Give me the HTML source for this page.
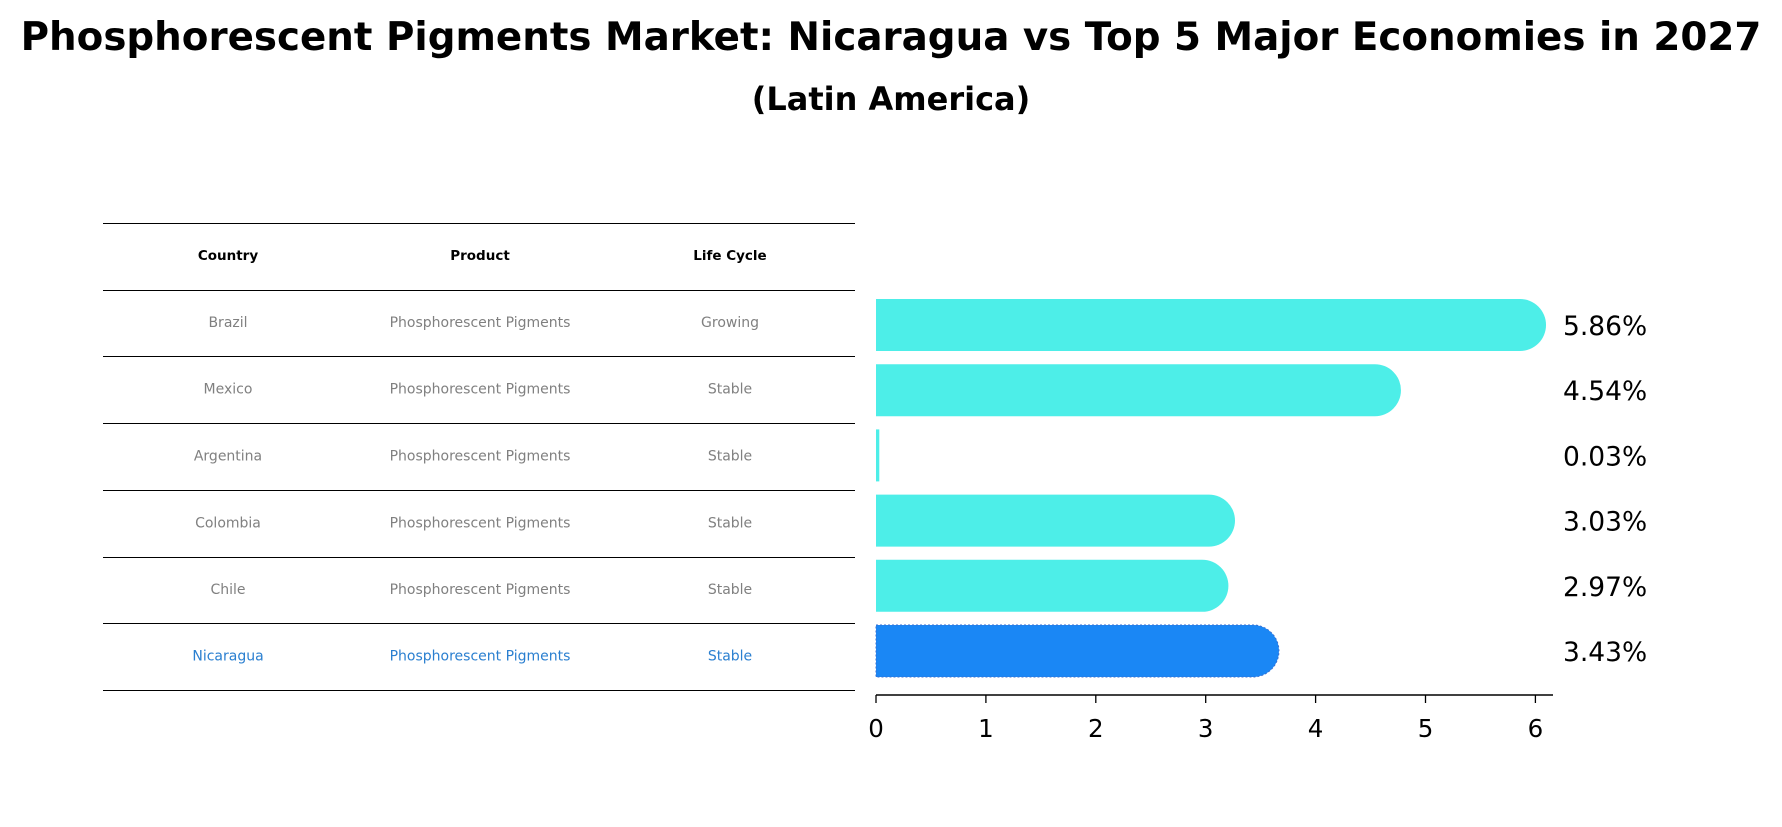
<!DOCTYPE html>
<html><head><meta charset="utf-8"><style>
body{margin:0;background:#fff;width:1782px;height:823px;overflow:hidden;font-family:"DejaVu Sans","Liberation Sans",sans-serif}
</style></head><body>
<svg width="1782" height="823" xmlns="http://www.w3.org/2000/svg" id="chart">
<text x="891" y="50" text-anchor="middle" font-size="38.8" font-weight="bold">Phosphorescent Pigments Market: Nicaragua vs Top 5 Major Economies in 2027</text>
<text x="891" y="110" text-anchor="middle" font-size="32" font-weight="bold">(Latin America)</text>
<g id="table"></g>
<g id="bars"></g>
</svg>
<script>
const countries=["Brazil","Mexico","Argentina","Colombia","Chile","Nicaragua"];
const lifeCycle=["Growing","Stable","Stable","Stable","Stable","Stable"];
const values=[5.86,4.54,0.03,3.03,2.97,3.43];
const ticks=[0,1,2,3,4,5,6];
const NS="http://www.w3.org/2000/svg";
function mk(t,a,p){const e=document.createElementNS(NS,t);for(const k in a)e.setAttribute(k,a[k]);p.appendChild(e);return e;}
const tb=document.getElementById('table');
const lineYs=[223,290,356,423,490,557,623,690];
const colX=[228,480,730];
lineYs.forEach((y,i)=>{const l=mk('line',{x1:103,x2:855,y1:y+0.5,y2:y+0.5,stroke:'#000','stroke-width':1},tb);

});
["Country","Product","Life Cycle"].forEach((h,j)=>{const t=mk('text',{x:colX[j],y:260,'text-anchor':'middle','font-size':13.5,'font-weight':'bold'},tb);t.textContent=h;

});
const xs=v=>876+v*109.9;
const rowY=i=>325+i*65.2;
countries.forEach((c,i)=>{const col=i===5?'#2a7fd0':'#808080';const ty=(lineYs[i+1]+lineYs[i+2])/2+4;
[c,"Phosphorescent Pigments",lifeCycle[i]].forEach((s,j)=>{const t=mk('text',{x:colX[j],y:ty,'text-anchor':'middle','font-size':14,fill:col},tb);t.textContent=s;

});});
const bg=document.getElementById('bars');
const h=52;
values.forEach((v,i)=>{const cy=rowY(i);const fill=i===5?'#1a87f5':'#4deee8';
const x1=xs(v);let p;
if(v<0.1){p=mk('rect',{x:876,y:cy-h/2,width:Math.max(3,x1-876),height:h,fill:fill},bg);}
else{const r=h/2;p=mk('path',{d:`M876 ${cy-r} H${x1} A${r} ${r} 0 0 1 ${x1} ${cy+r} H876 Z`,fill:fill},bg);
if(i===5){p.setAttribute('stroke','#3a6fd0');p.setAttribute('stroke-dasharray','2 2');}}


const t=mk('text',{x:1563,y:cy+10,'font-size':26.5},bg);t.textContent=v.toFixed(2)+'%';

});
const ax=mk('line',{x1:876,x2:1553,y1:695,y2:695,stroke:'#000','stroke-width':1.5},bg);


ticks.forEach(v=>{const tk=mk('line',{x1:xs(v),x2:xs(v),y1:695,y2:703,stroke:'#000','stroke-width':1.3},bg);


const t=mk('text',{x:xs(v),y:737,'text-anchor':'middle','font-size':24.5},bg);t.textContent=v;

});
</script>
</body></html>
